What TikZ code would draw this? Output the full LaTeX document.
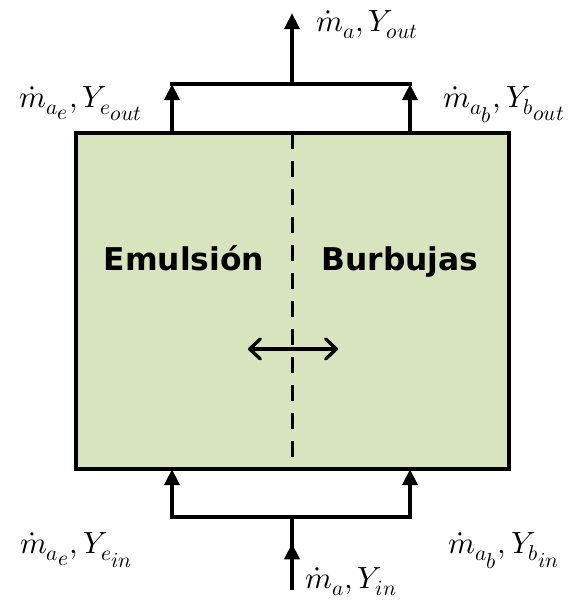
\documentclass[tikz,border=0pt]{standalone}
\usepackage{amsmath}
\usepackage{fontspec}
\usepackage{unicode-math}
\newfontfamily\zonefont{DejaVu Sans}
\usetikzlibrary{positioning, arrows.meta, decorations.markings}
\definecolor{bedgreen}{HTML}{D7E4BD}

\begin{document}
\begin{tikzpicture}[x=0.75pt, y=-0.75pt]
	\tikzset{
		pipe/.style={line width=3.7pt, line cap=rect},
		flow/.style={line width=3.7pt, -{Triangle[width=11pt, length=12pt]}},
		mid arrow/.style={decoration={markings, mark=at position 0.63 with {\arrow{Triangle[width=11pt, length=12pt]}}}, postaction={decorate}},
		divider/.style={line width=2.5pt, dash pattern=on 12pt off 9pt},
		exchange/.style={line width=2.5pt, {Straight Barb[length=8pt, width=15pt, round]}-{Straight Barb[length=8pt, width=15pt, round]}},
		lbl/.style={inner sep=0pt, font=\fontsize{23}{27}\selectfont},
		zone/.style={inner sep=0pt, font=\zonefont\bfseries\fontsize{23.5}{28}\selectfont}
	}
	\useasboundingbox (0,0) rectangle (573,600);
	
	% lecho
	\node[draw, line width=3.2pt, fill=bedgreen, outer sep=0pt, inner sep=0pt,
		minimum width=324.75pt, minimum height=252pt] (bed) at (292.5,301) {};
	\node[zone, anchor=base] (emul) at (184,270) {Emulsión};
	\node[zone, anchor=base] (burb) at (400,270) {Burbujas};
	\draw[divider] (bed.north) -- (bed.south);
	
	\coordinate (eOut) at (172,84);
	\coordinate (bOut) at (410,84);
	\coordinate (mixOut) at (292,84);
	\coordinate (stack) at (292,13);
	\coordinate (eIn) at (172,517);
	\coordinate (bIn) at (410,517);
	\coordinate (mixIn) at (292,517);
	\coordinate (feed) at (292,588);
	\coordinate (exL) at (248,349);
	\coordinate (exR) at (338,349);
	
	% salidas
	\draw[pipe] (eOut) -- (bOut);
	\draw[flow] (eOut |- bed.north) -- (eOut);
	\draw[flow] (bOut |- bed.north) -- (bOut);
	\draw[flow] (mixOut) -- (stack);
	
	% entradas
	\draw[pipe] (eIn) -- (bIn);
	\draw[flow] (eIn) -- (eIn |- bed.south);
	\draw[flow] (bIn) -- (bIn |- bed.south);
	\draw[pipe, mid arrow] (feed) -- (mixIn);
	
	% intercambio
	\draw[exchange] (exL) -- (exR);
	
	% etiquetas
	\node[lbl, anchor=base west] (lOut) at (316,31) {$\dot{m}_a, Y_{out}$};
	\node[lbl, anchor=base east] (lEout) at (143,107) {$\dot{m}_{a_{\scriptstyle e}}, Y_{e_{\scriptstyle out}}$};
	\node[lbl, anchor=base west] (lBout) at (443,107) {$\dot{m}_{a_{\scriptstyle b}}, Y_{b_{\scriptstyle out}}$};
	\node[lbl, anchor=base east] (lEin) at (133,553) {$\dot{m}_{a_{\scriptstyle e}}, Y_{e_{\scriptstyle in}}$};
	\node[lbl, anchor=base west] (lBin) at (448,553) {$\dot{m}_{a_{\scriptstyle b}}, Y_{b_{\scriptstyle in}}$};
	\node[lbl, anchor=base west] (lIn) at (305,588) {$\dot{m}_a, Y_{in}$};
\end{tikzpicture}
\end{document}
